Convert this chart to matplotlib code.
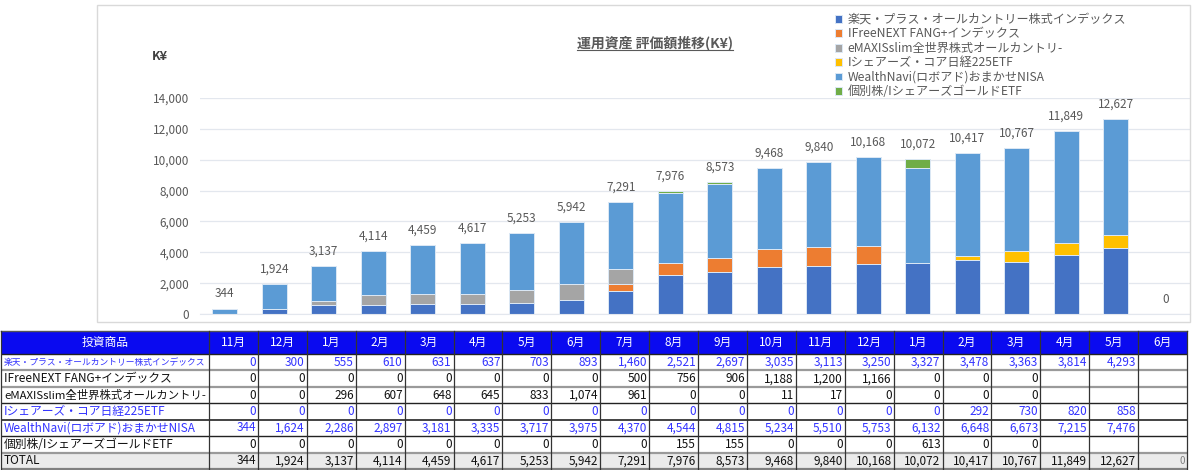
import matplotlib
matplotlib.use('Agg')
import matplotlib.pyplot as plt
from matplotlib.patches import Rectangle
from matplotlib.lines import Line2D
from matplotlib.ticker import StrMethodFormatter

plt.rcParams['font.family'] = ['Noto Sans CJK JP', 'DejaVu Sans']

# ---- data ----
months = ['11月', '12月', '1月', '2月', '3月', '4月', '5月', '6月', '7月', '8月',
          '9月', '10月', '11月', '12月', '1月', '2月', '3月', '4月', '5月', '6月']
names = ['楽天・プラス・オールカントリー株式インデックス',
         'IFreeNEXT FANG+インデックス',
         'eMAXISslim全世界株式オールカントリ-',
         'Iシェアーズ・コア日経225ETF',
         'WealthNavi(ロボアド)おまかせNISA',
         '個別株/IシェアーズゴールドETF']
rakuten = [0, 300, 555, 610, 631, 637, 703, 893, 1460, 2521,
           2697, 3035, 3113, 3250, 3327, 3478, 3363, 3814, 4293, None]
ifree = [0, 0, 0, 0, 0, 0, 0, 0, 500, 756,
         906, 1188, 1200, 1166, 0, 0, 0, None, None, None]
emaxis = [0, 0, 296, 607, 648, 645, 833, 1074, 961, 0,
          0, 11, 17, 0, 0, 0, 0, None, None, None]
nikkei = [0, 0, 0, 0, 0, 0, 0, 0, 0, 0,
          0, 0, 0, 0, 0, 292, 730, 820, 858, None]
wealth = [344, 1624, 2286, 2897, 3181, 3335, 3717, 3975, 4370, 4544,
          4815, 5234, 5510, 5753, 6132, 6648, 6673, 7215, 7476, None]
kobetsu = [0, 0, 0, 0, 0, 0, 0, 0, 0, 155,
           155, 0, 0, 0, 613, 0, 0, None, None, None]
totals = [344, 1924, 3137, 4114, 4459, 4617, 5253, 5942, 7291, 7976,
          8573, 9468, 9840, 10168, 10072, 10417, 10767, 11849, 12627, 0]

series = [rakuten, ifree, emaxis, nikkei, wealth, kobetsu]
colors = ['#4472C4', '#ED7D31', '#A5A5A5', '#FFC000', '#5B9BD5', '#70AD47']
blue_rows = [True, False, False, True, True, False]

W, H = 1200, 470
fig = plt.figure(figsize=(12, 4.7), dpi=100)

# chart panel frame
fig.patches.append(Rectangle((97 / W, 1 - 322 / H), (1190 - 97) / W, (322 - 5) / H,
                             transform=fig.transFigure, fill=False,
                             edgecolor='#D9D9D9', lw=1))

# ---- table (pixel coordinates) ----
tb = fig.add_axes([0, 0, 1, 1])
tb.set_xlim(0, W)
tb.set_ylim(H, 0)
tb.set_axis_off()

top, head_h, bot = 331, 23, 469
x0, lab_r, x1 = 1, 209, 1187
n = len(months)
col_w = (x1 - lab_r) / n
row_h = (bot - top - head_h) / (len(names) + 1)

tb.add_patch(Rectangle((x0, top), x1 - x0, head_h, facecolor='#0A0AF0', edgecolor='none'))
tb.text((x0 + lab_r) / 2, top + head_h / 2, '投資商品', color='white',
        ha='center', va='center', fontsize=8.5)
for j, m in enumerate(months):
    tb.text(lab_r + col_w * (j + 0.5), top + head_h / 2, m, color='white',
            ha='center', va='center', fontsize=8.5)

rend = fig.canvas.get_renderer()
y = top + head_h
for name, vals, isblue in zip(names, series, blue_rows):
    c = '#3333FF' if isblue else '#111111'
    fs = 8.5
    t = tb.text(x0 + 3, y + row_h / 2, name, color=c, ha='left', va='center', fontsize=fs)
    while t.get_window_extent(rend).width > lab_r - x0 - 6:
        fs -= 0.1
        t.set_fontsize(fs)
    for j, v in enumerate(vals):
        if v is not None:
            tb.text(lab_r + col_w * (j + 1) - 2, y + row_h / 2, f'{v:,}', color=c,
                    ha='right', va='center', fontsize=8.5)
    y += row_h

tb.add_patch(Rectangle((x0, y), x1 - x0, row_h, facecolor='#EBEBEB', edgecolor='none'))
tb.text(x0 + 3, y + row_h / 2, 'TOTAL', color='#111111', ha='left', va='center', fontsize=8.5)
for j, v in enumerate(totals):
    if j == n - 1:
        tb.text(lab_r + col_w * (j + 1) - 2, y + row_h / 2, f'{v:,}', color='#808080',
                ha='right', va='center', fontsize=7)
    else:
        tb.text(lab_r + col_w * (j + 1) - 2, y + row_h / 2, f'{v:,}', color='#111111',
                ha='right', va='center', fontsize=8.5)

# grid lines
hl = [('#222222', 1.0), ('#9A9A9A', 1.6), ('#9A9A9A', 1.6), ('#222222', 1.0),
      ('#222222', 1.2), ('#222222', 1.0), ('#9A9A9A', 1.6), ('#808080', 1.6)]
for k, (lc, lw) in enumerate(hl):
    yy = top + head_h + row_h * k
    tb.plot([x0, x1], [yy, yy], color=lc, lw=lw, solid_capstyle='butt')
tb.plot([x0, x1], [top, top], color='#555555', lw=1.0)
for xx in [x0, lab_r] + [lab_r + col_w * (j + 1) for j in range(n)]:
    tb.plot([xx, xx], [top, bot], color='#333333', lw=0.9)

# ---- chart ----
ax = fig.add_axes([200 / W, 1 - 314 / H, 990 / W, 216 / H])
xs = list(range(n))
bottom = [0] * n
for vals, col, name in zip(series, colors, names):
    v = [a if a is not None else 0 for a in vals]
    ax.bar(xs, v, 0.5, bottom=bottom, color=col, edgecolor='#DCE8F5',
           linewidth=0.7, label=name, zorder=2)
    bottom = [b + a for b, a in zip(bottom, v)]
for i, t in enumerate(totals):
    ax.annotate(f'{t:,}', (i, bottom[i]), xytext=(0, 6), textcoords='offset points',
                ha='center', va='bottom', fontsize=8.5, color='#595959')

ax.set_xlim(-0.5, n - 0.5)
ax.set_ylim(0, 14000)
ax.set_yticks(range(0, 14001, 2000))
ax.yaxis.set_major_formatter(StrMethodFormatter('{x:,.0f}'))
ax.tick_params(axis='y', length=0, pad=8, labelsize=8.5, labelcolor='#595959')
ax.set_xticks([])
ax.yaxis.grid(True, color='#E3E7EE', lw=0.9)
ax.set_axisbelow(True)
for s in ['top', 'right', 'left']:
    ax.spines[s].set_visible(False)
ax.spines['bottom'].set_color('#E3E7EE')
ax.patch.set_alpha(0)

fig.text(160 / W, 1 - 57 / H, 'K¥', ha='center', va='center', fontsize=9,
         fontweight='bold', color='#404040')
title = fig.text(655 / W, 1 - 43 / H, '運用資産 評価額推移(K¥)', ha='center', va='center',
                 fontsize=10, fontweight='bold', color='#595959')
bb = title.get_window_extent(rend)
fig.lines.append(Line2D([bb.x0 / fig.bbox.width, bb.x1 / fig.bbox.width],
                        [bb.y0 / fig.bbox.height + 0.001] * 2,
                        transform=fig.transFigure, color='#595959', lw=0.8))

handles, labels = ax.get_legend_handles_labels()
leg = fig.legend(handles, labels, loc='upper left', bbox_to_anchor=(829 / W, 1 - 7 / H),
                 frameon=False, fontsize=8.7, labelspacing=0.12, handlelength=0.6,
                 handleheight=0.6, handletextpad=0.45, borderpad=0)
for txt in leg.get_texts():
    txt.set_color('#595959')

fig.savefig('out.png', dpi=100)
